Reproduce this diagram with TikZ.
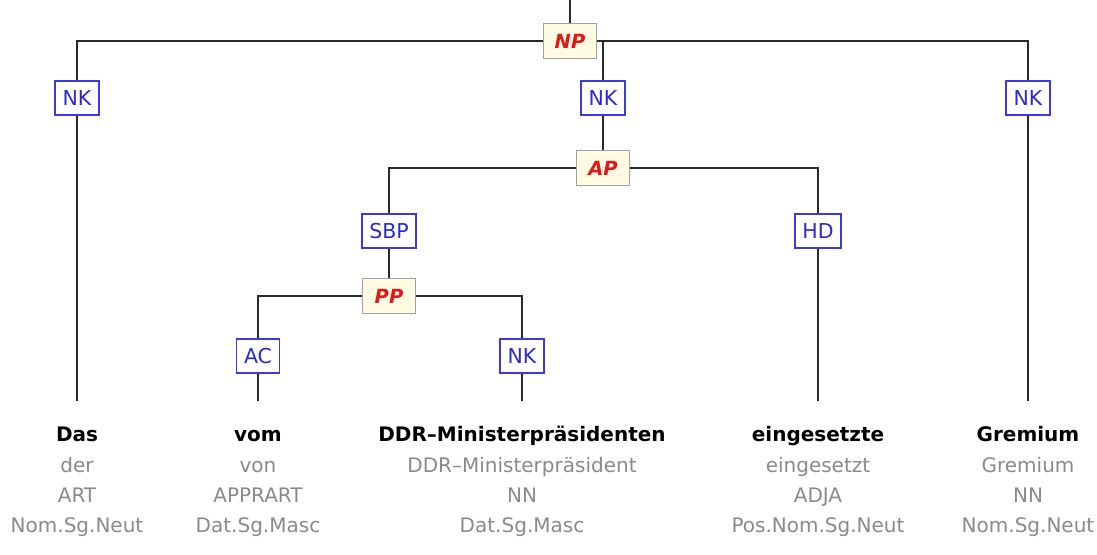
\documentclass[tikz,border=0pt]{standalone}
\usepackage{fontspec}
\setmainfont{DejaVu Sans}
\usetikzlibrary{positioning}

\definecolor{catred}{HTML}{E01818}
\definecolor{catfill}{HTML}{FFFBE2}
\definecolor{catline}{HTML}{A0A0A0}
\definecolor{funcblue}{HTML}{2B2BCC}
\definecolor{funcline}{HTML}{3A3ADF}
\definecolor{treeline}{HTML}{2A2A2A}
\definecolor{lemmagrey}{HTML}{8A8A8A}

\tikzset{
  catbox/.style={draw=catline, fill=catfill, line width=1.6pt,
    text=catred, font=\fontsize{19.5}{21}\selectfont\bfseries\itshape,
    minimum width=53pt, minimum height=35pt, inner sep=0pt},
  funcbox/.style={draw=funcline, fill=white, line width=1.6pt,
    text=funcblue, font=\fontsize{20.5}{22}\selectfont,
    minimum height=34pt, inner xsep=7.5pt, inner ysep=0pt},
  branch/.style={draw=treeline, line width=1.9pt},
  word/.style={font=\fontsize{20}{22}\selectfont\bfseries,
    text height=15pt, text depth=5pt, inner ysep=25pt},
  info/.style={font=\fontsize{20}{22}\selectfont, text=lemmagrey,
    text height=15pt, text depth=5pt}
}

\begin{document}
\begin{tikzpicture}[x=1pt, y=-1pt]
\useasboundingbox (0,0) rectangle (1097,554);

% phrase nodes
\node[catbox] (np) at (570,41) {NP};
\node[catbox] (ap) at (603,168) {AP};
\node[catbox] (pp) at (389,296) {PP};

% function labels
\node[funcbox] (nk1) at (77,98) {NK};
\node[funcbox] (nk2) at (603,98) {NK};
\node[funcbox] (nk3) at (1028,98) {NK};
\node[funcbox] (sbp) at (389,231) {SBP};
\node[funcbox] (hd) at (818,231) {HD};
\node[funcbox] (ac) at (258,356) {AC};
\node[funcbox] (nk4) at (522,356) {NK};

% terminals
\node[word] (das) at (77,436) {Das};
\node[word] (vom) at (258,436) {vom};
\node[word] (ddr) at (522,436) {DDR–Ministerpräsidenten};
\node[word] (eing) at (818,436) {eingesetzte};
\node[word] (grem) at (1028,436) {Gremium};

\node[info] (das-l) at (77,467) {der};
\node[info] (vom-l) at (258,467) {von};
\node[info] (ddr-l) at (522,467) {DDR–Ministerpräsident};
\node[info] (eing-l) at (818,467) {eingesetzt};
\node[info] (grem-l) at (1028,467) {Gremium};

\node[info] (das-p) at (77,497) {ART};
\node[info] (vom-p) at (258,497) {APPRART};
\node[info] (ddr-p) at (522,497) {NN};
\node[info] (eing-p) at (818,497) {ADJA};
\node[info] (grem-p) at (1028,497) {NN};

\node[info] (das-m) at (77,527) {Nom.Sg.Neut};
\node[info] (vom-m) at (258,527) {Dat.Sg.Masc};
\node[info] (ddr-m) at (522,527) {Dat.Sg.Masc};
\node[info] (eing-m) at (818,527) {Pos.Nom.Sg.Neut};
\node[info] (grem-m) at (1028,527) {Nom.Sg.Neut};

\coordinate (root) at (570,0);

% branches
\draw[branch] (root) -- (np.north);
\draw[branch] (np.west) -| (nk1.north);
\draw[branch] (np.east) -| (nk3.north);
\draw[branch] (nk2 |- np.east) -- (nk2.north);
\draw[branch] (nk1.south) -- (das.north);
\draw[branch] (nk3.south) -- (grem.north);
\draw[branch] (nk2.south) -- (ap.north);
\draw[branch] (ap.west) -| (sbp.north);
\draw[branch] (ap.east) -| (hd.north);
\draw[branch] (hd.south) -- (eing.north);
\draw[branch] (sbp.south) -- (pp.north);
\draw[branch] (pp.west) -| (ac.north);
\draw[branch] (pp.east) -| (nk4.north);
\draw[branch] (ac.south) -- (vom.north);
\draw[branch] (nk4.south) -- (ddr.north);
\end{tikzpicture}
\end{document}
